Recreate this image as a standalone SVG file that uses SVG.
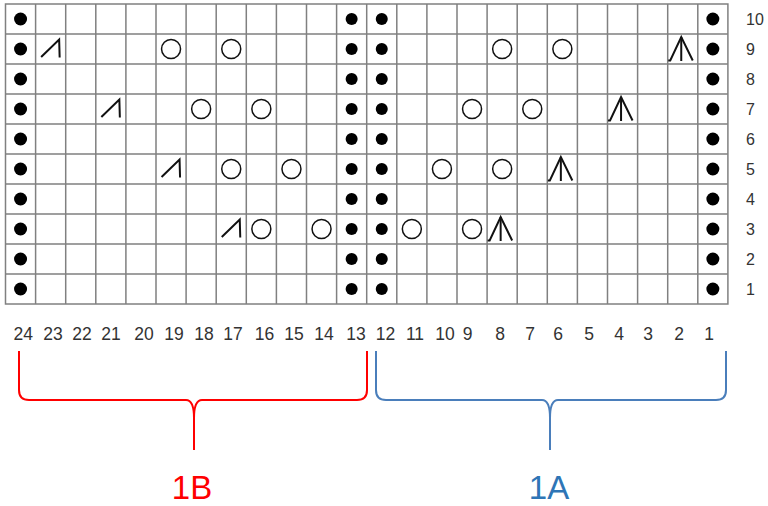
<svg xmlns="http://www.w3.org/2000/svg" width="768" height="506" viewBox="0 0 768 506">
<style>
.grid{fill:none;stroke:#808080;stroke-width:1.5}
.yo{fill:none;stroke:#111;stroke-width:1.5}
.sym{fill:none;stroke:#111;stroke-width:2;stroke-linejoin:miter}
.dot{fill:#000}
.num{font-family:"Liberation Sans",Arial,sans-serif;fill:#333}
.bot{font-size:17.5px;text-anchor:middle}
.side{font-size:16px}
.brace{fill:none;stroke-width:2}
.lbl{font-family:"Liberation Sans",Arial,sans-serif;font-size:33px;text-anchor:middle}
</style>
<defs>
<circle id="o" r="9.5" class="yo"/>
<circle id="d" r="6.5" class="dot"/>
<circle id="ds" r="6" class="dot"/>
<polyline id="k2" class="sym" points="-9.5,8 8.5,-9.5 9,8.5"/>
<g id="dd" class="sym"><polyline points="-14.5,11.5 -12.5,11.5 -1.5,-12 10,11.5"/><line x1="-1.5" y1="-12" x2="-1.5" y2="12"/></g>
</defs>
<g id="chart-grid">
<rect class="grid" x="5.5" y="4" width="722.4" height="300"/>
<path class="grid" d="M35.6 4V304M65.7 4V304M95.8 4V304M125.9 4V304M156 4V304M186.1 4V304M216.2 4V304M246.3 4V304M276.4 4V304M306.5 4V304M336.6 4V304M366.7 4V304M396.8 4V304M426.9 4V304M457 4V304M487.1 4V304M517.2 4V304M547.3 4V304M577.4 4V304M607.5 4V304M637.6 4V304M667.7 4V304M697.8 4V304M5.5 34H727.9M5.5 64H727.9M5.5 94H727.9M5.5 124H727.9M5.5 154H727.9M5.5 184H727.9M5.5 214H727.9M5.5 244H727.9M5.5 274H727.9"/>
</g>
<g id="purl-columns">
<use href="#d" x="20.55" y="19"/><use href="#d" x="20.55" y="49"/><use href="#d" x="20.55" y="79"/><use href="#d" x="20.55" y="109"/><use href="#d" x="20.55" y="139"/><use href="#d" x="20.55" y="169"/><use href="#d" x="20.55" y="199"/><use href="#d" x="20.55" y="229"/><use href="#d" x="20.55" y="259"/><use href="#d" x="20.55" y="289"/>
<use href="#ds" x="351.65" y="19"/><use href="#ds" x="351.65" y="49"/><use href="#ds" x="351.65" y="79"/><use href="#ds" x="351.65" y="109"/><use href="#ds" x="351.65" y="139"/><use href="#ds" x="351.65" y="169"/><use href="#ds" x="351.65" y="199"/><use href="#ds" x="351.65" y="229"/><use href="#ds" x="351.65" y="259"/><use href="#ds" x="351.65" y="289"/>
<use href="#ds" x="381.75" y="19"/><use href="#ds" x="381.75" y="49"/><use href="#ds" x="381.75" y="79"/><use href="#ds" x="381.75" y="109"/><use href="#ds" x="381.75" y="139"/><use href="#ds" x="381.75" y="169"/><use href="#ds" x="381.75" y="199"/><use href="#ds" x="381.75" y="229"/><use href="#ds" x="381.75" y="259"/><use href="#ds" x="381.75" y="289"/>
<use href="#d" x="712.85" y="19"/><use href="#d" x="712.85" y="49"/><use href="#d" x="712.85" y="79"/><use href="#d" x="712.85" y="109"/><use href="#d" x="712.85" y="139"/><use href="#d" x="712.85" y="169"/><use href="#d" x="712.85" y="199"/><use href="#d" x="712.85" y="229"/><use href="#d" x="712.85" y="259"/><use href="#d" x="712.85" y="289"/>
</g>
<g id="row9">
<use href="#k2" x="50.65" y="49"/><use href="#o" x="171.05" y="49"/><use href="#o" x="231.25" y="49"/><use href="#o" x="502.15" y="49"/><use href="#o" x="562.35" y="49"/><use href="#dd" x="682.75" y="49"/>
</g>
<g id="row7">
<use href="#k2" x="110.85" y="109"/><use href="#o" x="201.15" y="109"/><use href="#o" x="261.35" y="109"/><use href="#o" x="472.05" y="109"/><use href="#o" x="532.25" y="109"/><use href="#dd" x="622.55" y="109"/>
</g>
<g id="row5">
<use href="#k2" x="171.05" y="169"/><use href="#o" x="231.25" y="169"/><use href="#o" x="291.45" y="169"/><use href="#o" x="441.95" y="169"/><use href="#o" x="502.15" y="169"/><use href="#dd" x="562.35" y="169"/>
</g>
<g id="row3">
<use href="#k2" x="231.25" y="229"/><use href="#o" x="261.35" y="229"/><use href="#o" x="321.55" y="229"/><use href="#o" x="411.85" y="229"/><use href="#o" x="472.05" y="229"/><use href="#dd" x="502.15" y="229"/>
</g>
<g id="row-numbers" class="num side">
<text x="746" y="25">10</text><text x="746" y="55">9</text><text x="746" y="85">8</text><text x="746" y="115">7</text><text x="746" y="145">6</text><text x="746" y="175">5</text><text x="746" y="205">4</text><text x="746" y="235">3</text><text x="746" y="265">2</text><text x="746" y="295">1</text>
</g>
<g id="stitch-numbers" class="num bot">
<text x="23.3" y="340">24</text><text x="53" y="340">23</text><text x="82" y="340">22</text><text x="111" y="340">21</text><text x="144" y="340">20</text><text x="174" y="340">19</text><text x="204" y="340">18</text><text x="233" y="340">17</text><text x="264.5" y="340">16</text><text x="294" y="340">15</text><text x="324" y="340">14</text><text x="356" y="340">13</text><text x="385.5" y="340">12</text><text x="415" y="340">11</text><text x="445" y="340">10</text><text x="467.5" y="340">9</text><text x="500" y="340">8</text><text x="530" y="340">7</text><text x="558" y="340">6</text><text x="589" y="340">5</text><text x="619" y="340">4</text><text x="648" y="340">3</text><text x="679" y="340">2</text><text x="709" y="340">1</text>
</g>
<g id="connectors">
<path class="brace" stroke="#ff0000" d="M19 351V390Q19 400 29 400H186Q194 400 194 418V450M194 418Q194 400 202 400H357Q367 400 367 390V351"/>
<path class="brace" stroke="#4a7ebb" d="M376 351V390Q376 400 386 400H542Q550 400 550 418V450M550 418Q550 400 558 400H716Q726 400 726 390V351"/>
</g>
<g id="label-1B"><text class="lbl" x="192" y="499" fill="#ff0000">1B</text></g>
<g id="label-1A"><text class="lbl" x="549" y="499" fill="#2e75b6">1A</text></g>
</svg>
